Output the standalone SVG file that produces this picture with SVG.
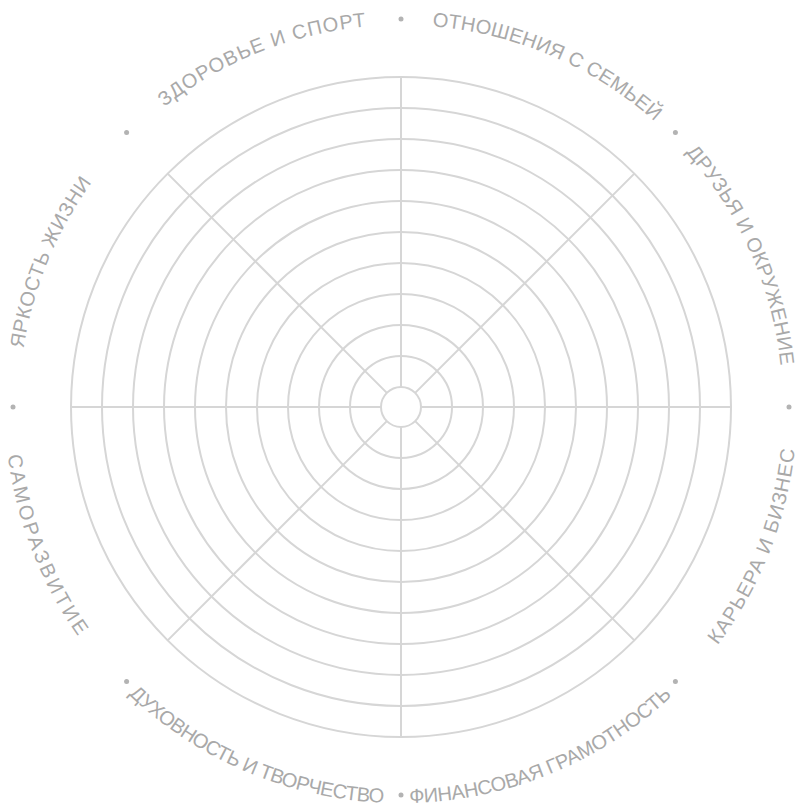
<svg xmlns="http://www.w3.org/2000/svg" xmlns:xlink="http://www.w3.org/1999/xlink" width="798" height="805" viewBox="0 0 798 805">
<style>
.ring{fill:none;stroke:#d6d6d6;stroke-width:2}
.spoke{stroke:#d6d6d6;stroke-width:2}
.lbl{font-family:"Liberation Sans","DejaVu Sans",sans-serif;font-size:20px;fill:#a9a9a9;text-anchor:middle}
.dot{fill:#b3b3b3}
</style>
<defs>
<path id="cw" d="M 19,407 A 382 382 0 1 1 783,407 A 382 382 0 1 1 19,407"/>
<path id="ccw" d="M 5,407 A 396 396 0 1 0 797,407 A 396 396 0 1 0 5,407"/>
</defs>
<rect width="798" height="805" fill="#ffffff"/>
<g id="wheel">
<circle class="ring" cx="401" cy="407" r="20"/>
<circle class="ring" cx="401" cy="407" r="51"/>
<circle class="ring" cx="401" cy="407" r="82"/>
<circle class="ring" cx="401" cy="407" r="113"/>
<circle class="ring" cx="401" cy="407" r="144"/>
<circle class="ring" cx="401" cy="407" r="175"/>
<circle class="ring" cx="401" cy="407" r="206"/>
<circle class="ring" cx="401" cy="407" r="237"/>
<circle class="ring" cx="401" cy="407" r="268"/>
<circle class="ring" cx="401" cy="407" r="299"/>
<circle class="ring" cx="401" cy="407" r="330"/>
</g>
<g id="spokes">
<line class="spoke" x1="381" y1="407" x2="71" y2="407"/>
<line class="spoke" x1="421" y1="407" x2="731" y2="407"/>
<line class="spoke" x1="401" y1="387" x2="401" y2="77"/>
<line class="spoke" x1="401" y1="427" x2="401" y2="737"/>
<line class="spoke" x1="386.86" y1="392.86" x2="167.65" y2="173.65"/>
<line class="spoke" x1="415.14" y1="392.86" x2="634.35" y2="173.65"/>
<line class="spoke" x1="386.86" y1="421.14" x2="167.65" y2="640.35"/>
<line class="spoke" x1="415.14" y1="421.14" x2="634.35" y2="640.35"/>
</g>
<g id="labels">
<text class="lbl"><textPath href="#cw" xlink:href="#cw" startOffset="149.3" textLength="181" lengthAdjust="spacing">ЯРКОСТЬ ЖИЗНИ</textPath></text>
<text class="lbl"><textPath href="#cw" xlink:href="#cw" startOffset="454.7" textLength="220" lengthAdjust="spacing">ЗДОРОВЬЕ И СПОРТ</textPath></text>
<text class="lbl"><textPath href="#cw" xlink:href="#cw" startOffset="754.1" textLength="246" lengthAdjust="spacing">ОТНОШЕНИЯ С СЕМЬЕЙ</textPath></text>
<text class="lbl"><textPath href="#cw" xlink:href="#cw" startOffset="1039.4" textLength="237" lengthAdjust="spacing">ДРУЗЬЯ И ОКРУЖЕНИЕ</textPath></text>
<text class="lbl"><textPath href="#ccw" xlink:href="#ccw" startOffset="1094.8" textLength="213" lengthAdjust="spacing">КАРЬЕРА И БИЗНЕС</textPath></text>
<text class="lbl"><textPath href="#ccw" xlink:href="#ccw" startOffset="775.5" textLength="290" lengthAdjust="spacing">ФИНАНСОВАЯ ГРАМОТНОСТЬ</textPath></text>
<text class="lbl"><textPath href="#ccw" xlink:href="#ccw" startOffset="463.1" textLength="283" lengthAdjust="spacing">ДУХОВНОСТЬ И ТВОРЧЕСТВО</textPath></text>
<text class="lbl"><textPath href="#ccw" xlink:href="#ccw" startOffset="146.5" textLength="196" lengthAdjust="spacing">САМОРАЗВИТИЕ</textPath></text>
</g>
<g id="dots">
<circle class="dot" cx="401" cy="19" r="2.5"/>
<circle class="dot" cx="675.4" cy="132.6" r="2.5"/>
<circle class="dot" cx="789" cy="407" r="2.5"/>
<circle class="dot" cx="675.4" cy="681.4" r="2.5"/>
<circle class="dot" cx="401" cy="795" r="2.5"/>
<circle class="dot" cx="126.6" cy="681.4" r="2.5"/>
<circle class="dot" cx="13" cy="407" r="2.5"/>
<circle class="dot" cx="126.6" cy="132.6" r="2.5"/>
</g>
</svg>
